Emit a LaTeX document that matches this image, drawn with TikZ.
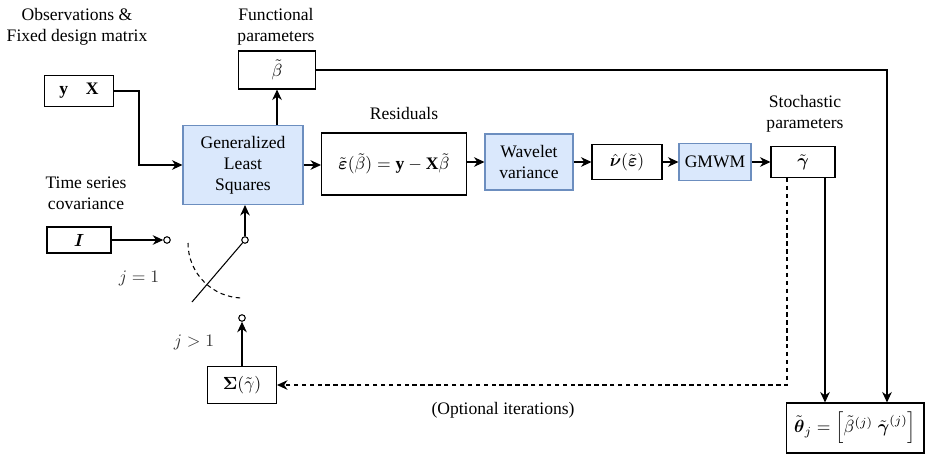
\documentclass[tikz,border=0pt]{standalone}
\usepackage{amsmath, amssymb}
\usepackage{fontspec}
\setmainfont{Liberation Serif}
\usetikzlibrary{arrows.meta}
\definecolor{boxblue}{HTML}{DAE8FC}
\definecolor{lineblue}{HTML}{6C8EBF}
\tikzset{
	box/.style={draw,line width=0.6pt,inner sep=0pt},
	bluebox/.style={box,draw=lineblue,fill=boxblue,align=center},
	lbl/.style={align=center,inner sep=0pt},
	port/.style={draw,circle,fill=white,inner sep=0pt,minimum size=0.13cm,line width=0.6pt},
	arr/.style={line width=0.6pt,-{Stealth[length=6pt,width=5.5pt]}},
	wire/.style={line width=0.6pt},
	dsh/.style={dash pattern=on 2.5pt off 2pt}
}
\begin{document}
\begin{tikzpicture}[x=0.02cm,y=-0.02cm]
	\useasboundingbox (0,0) rectangle (925,453);
	% labels
	\node[lbl] (obslbl) at (77,27){Observations \&\\Fixed design matrix};
	\node[lbl] (funlbl) at (276,27){Functional\\parameters};
	\node[lbl] (tslbl) at (86,193){Time series\\covariance};
	\node[lbl] (reslbl) at (404,113){Residuals};
	\node[lbl] (stolbl) at (805,114){Stochastic\\parameters};
	\node[lbl] (optlbl) at (503,410){(Optional iterations)};
	\node[lbl,text=black!80] (j1lbl) at (139,278){$j=1$};
	\node[lbl,text=black!80] (jglbl) at (194,342){$j>1$};
	% boxes
	\node[box,minimum width=1.38cm,minimum height=0.62cm] (yx) at (79,91){$\mathbf{y}\quad\mathbf{X}$};
	\node[box,minimum width=1.54cm,minimum height=0.76cm] (beta) at (277,70){$\tilde\beta$};
	\node[bluebox,minimum width=2.4cm,minimum height=1.58cm] (gls) at (243,165){Generalized\\Least\\Squares};
	\node[box,minimum width=1.28cm,minimum height=0.52cm] (eye) at (79,240){$\boldsymbol{I}$};
	\node[box,minimum width=1.38cm,minimum height=0.74cm] (sig) at (242,385){$\boldsymbol{\Sigma}(\tilde\gamma)$};
	\node[box,minimum width=2.9cm,minimum height=1.24cm] (eps) at (394,164){$\tilde{\boldsymbol{\varepsilon}}(\tilde\beta)=\mathbf{y}-\mathbf{X}\tilde\beta$};
	\node[bluebox,minimum width=1.76cm,minimum height=1.12cm] (wav) at (529,162){Wavelet\\variance};
	\node[box,minimum width=1.4cm,minimum height=0.7cm] (nu) at (627,162){$\hat{\boldsymbol{\nu}}(\tilde{\boldsymbol{\varepsilon}})$};
	\node[bluebox,minimum width=1.44cm,minimum height=0.74cm] (gmwm) at (715,162){GMWM};
	\node[box,minimum width=1.28cm,minimum height=0.62cm] (gam) at (803,162){$\tilde{\boldsymbol{\gamma}}$};
	\node[box,minimum width=2.76cm,minimum height=1.0cm] (theta) at (855,428){$\tilde{\boldsymbol{\theta}}_j=\left[\tilde\beta^{(j)}\;\tilde{\boldsymbol{\gamma}}^{(j)}\right]$};
	% switch
	\node[port] (p1) at (167,240){};
	\node[port] (p0) at (245,240){};
	\node[port] (p2) at (242,318){};
	\coordinate (lev) at (192,302);
	\draw[wire] (p0) -- (lev);
	\draw[wire,dsh] (188,243) arc[start angle=180,end angle=270,radius=1.1cm];
	% connectors
	\draw[arr] (yx.east) -- ++(25,0) |- (gls.west);
	\draw[arr] (beta.south |- gls.north) -- (beta.south);
	\draw[arr] (gls.east) -- (gls.east -| eps.west);
	\draw[arr] (eps.east |- wav.west) -- (wav.west);
	\draw[arr] (wav.east) -- (nu.west);
	\draw[arr] (nu.east) -- (gmwm.west);
	\draw[arr] (gmwm.east) -- (gam.west);
	\draw[arr] (eye.east) -- (p1);
	\draw[arr] (p0) -- (p0 |- gls.south);
	\draw[arr] (sig.north) -- (p2);
	\draw[arr] (beta.east) -| ([xshift=0.64cm]theta.north);
	\draw[arr] ([xshift=0.44cm]gam.south) -- ([xshift=0.44cm]gam.south |- theta.north);
	\draw[arr,dsh] ([xshift=-0.32cm]gam.south) |- (sig.east);
\end{tikzpicture}
\end{document}
